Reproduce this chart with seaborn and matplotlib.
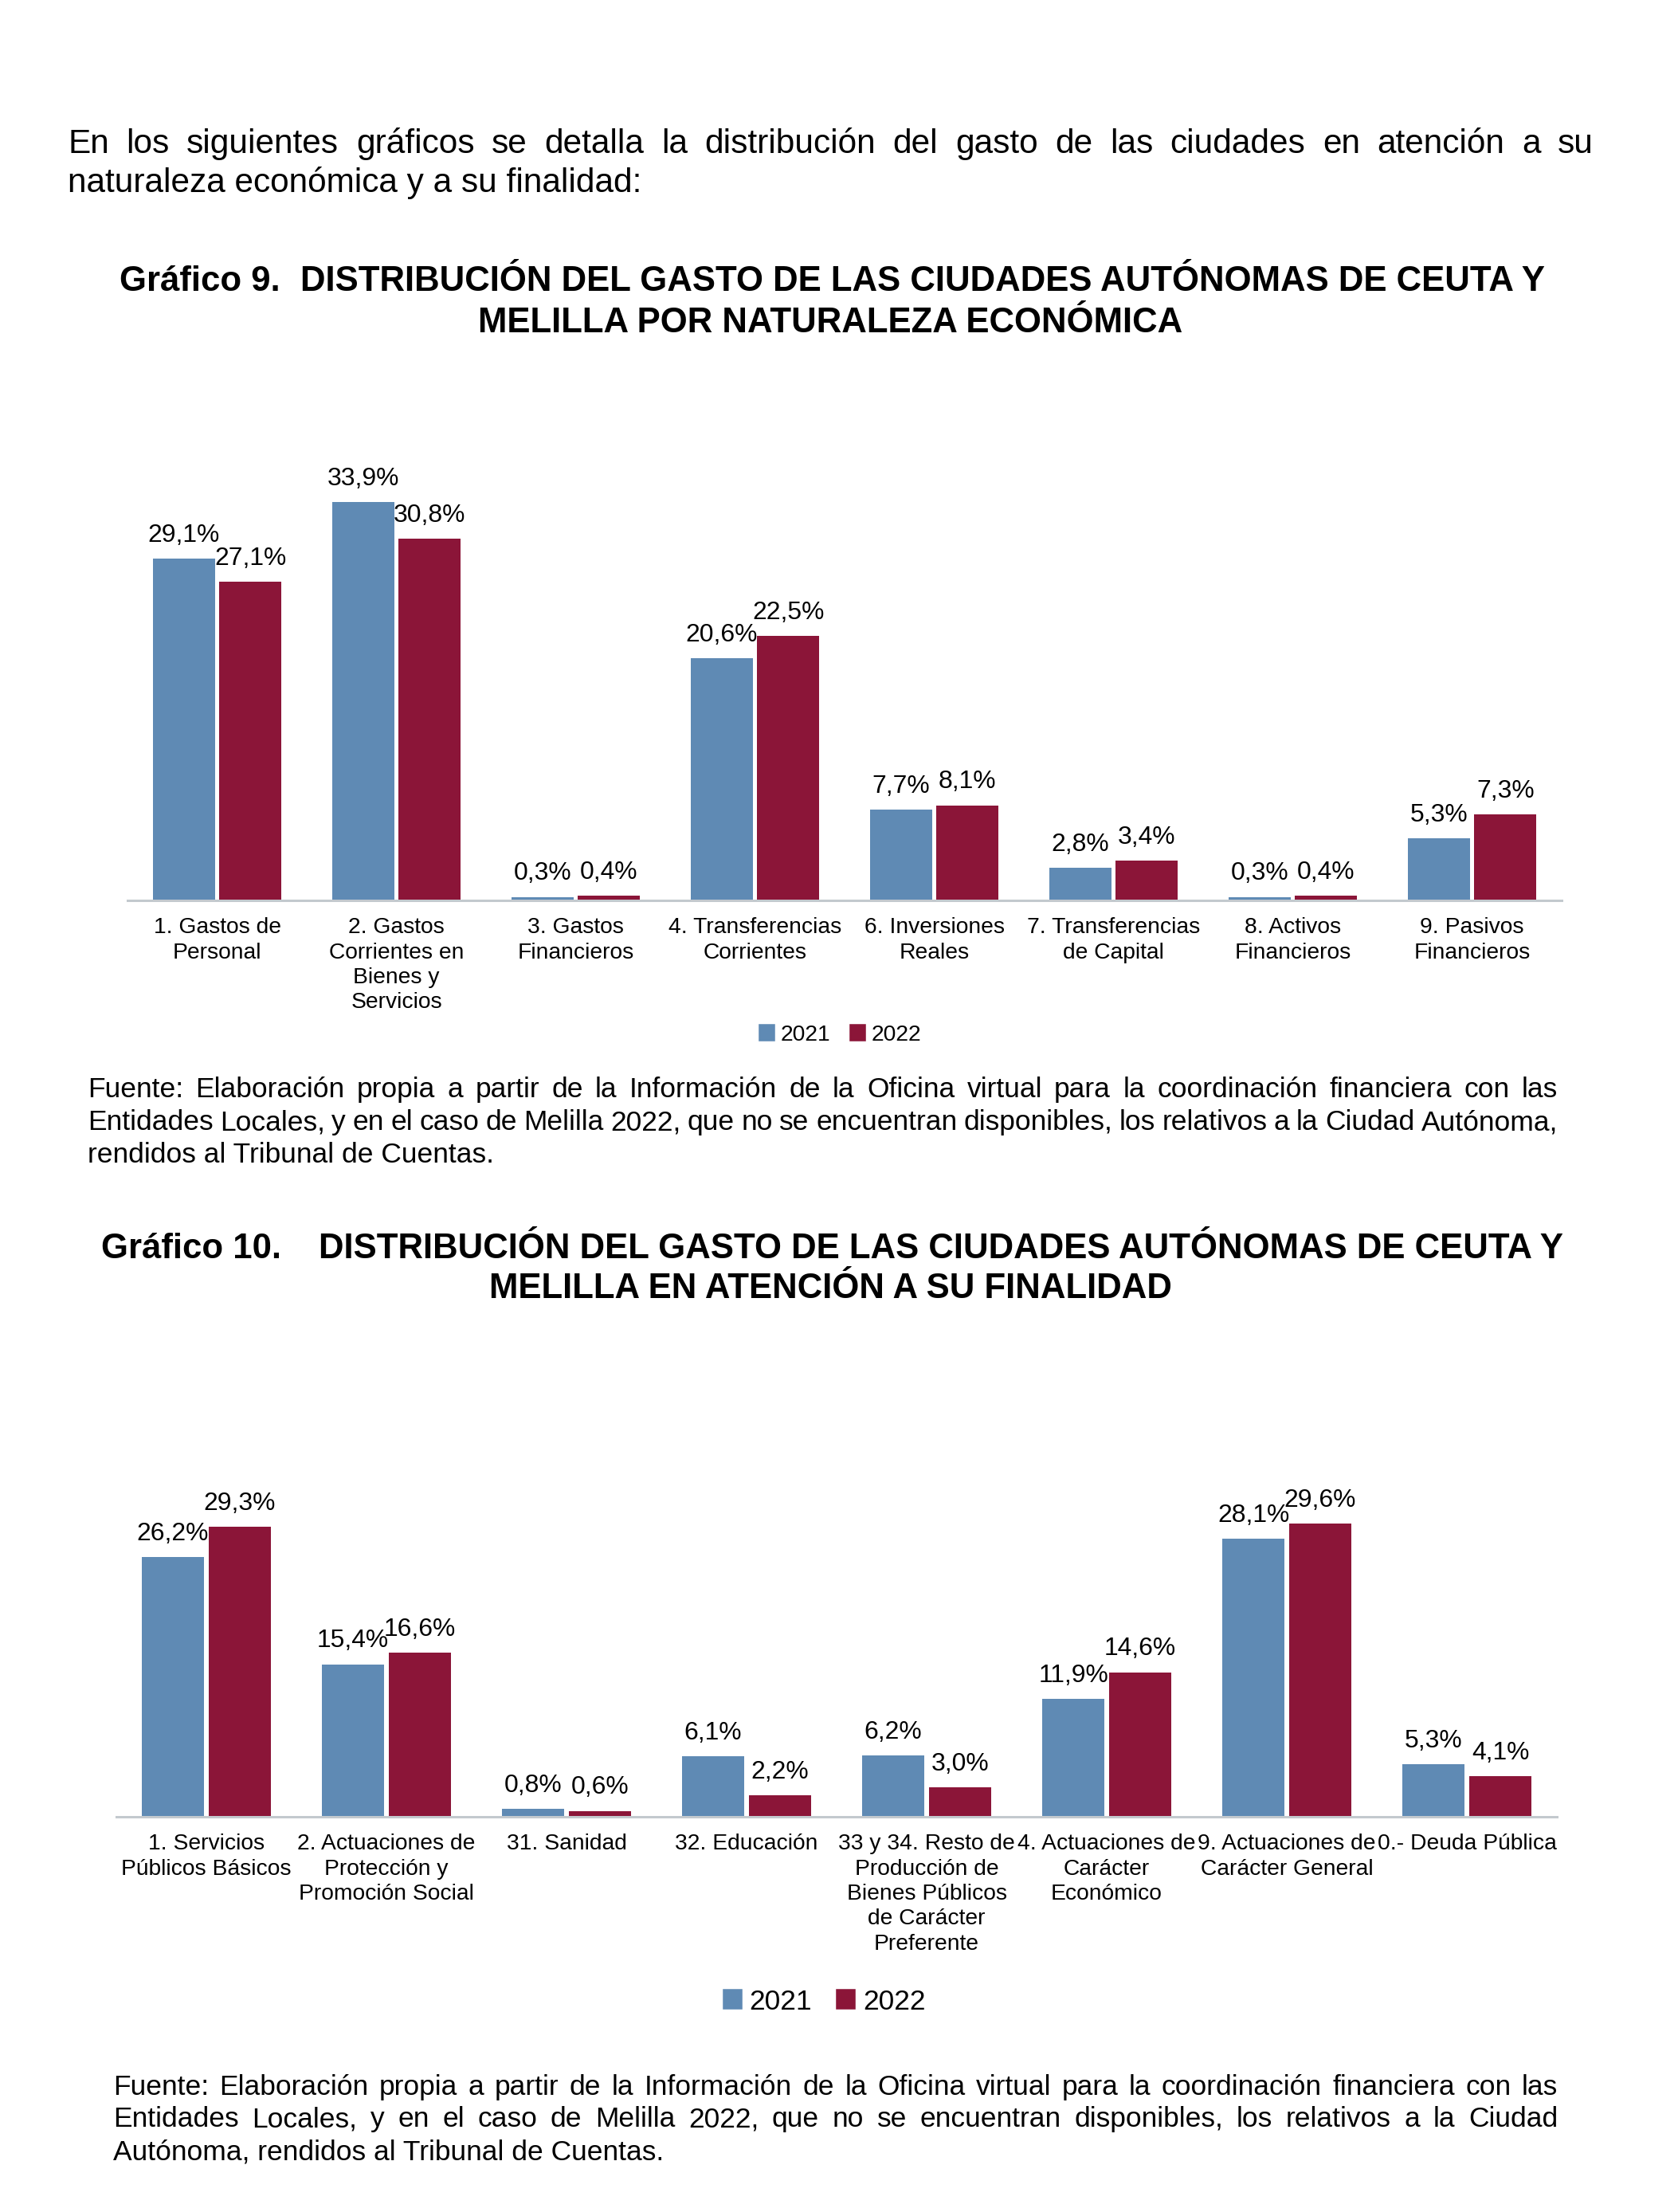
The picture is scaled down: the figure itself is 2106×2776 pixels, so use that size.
import matplotlib
matplotlib.use("Agg")
import matplotlib.pyplot as plt
import matplotlib.patches as mpatches
import numpy as np
import pandas as pd
import seaborn as sns

# ---------------- data ----------------
years = ["2021", "2022"]

cats_eco = ["1. Gastos de\nPersonal", "2. Gastos\nCorrientes en\nBienes y\nServicios",
            "3. Gastos\nFinancieros", "4. Transferencias\nCorrientes",
            "6. Inversiones\nReales", "7. Transferencias\nde Capital",
            "8. Activos\nFinancieros", "9. Pasivos\nFinancieros"]
eco_2021 = [29.1, 33.9, 0.3, 20.6, 7.7, 2.8, 0.3, 5.3]
eco_2022 = [27.1, 30.8, 0.4, 22.5, 8.1, 3.4, 0.4, 7.3]

cats_fin = ["1. Servicios\nPúblicos Básicos", "2. Actuaciones de\nProtección y\nPromoción Social",
            "31. Sanidad", "32. Educación",
            "33 y 34. Resto de\nProducción de\nBienes Públicos\nde Carácter\nPreferente",
            "4. Actuaciones de\nCarácter\nEconómico", "9. Actuaciones de\nCarácter General",
            "0.- Deuda Pública"]
fin_2021 = [26.2, 15.4, 0.8, 6.1, 6.2, 11.9, 28.1, 5.3]
fin_2022 = [29.3, 16.6, 0.6, 2.2, 3.0, 14.6, 29.6, 4.1]

intro_lines = ["En los siguientes gráficos se detalla la distribución del gasto de las ciudades en atención a su",
               "naturaleza económica y a su finalidad:"]
title1_prefix = "Gráfico 9."
title1_main = "DISTRIBUCIÓN DEL GASTO DE LAS CIUDADES AUTÓNOMAS DE CEUTA Y"
title1_line2 = "MELILLA POR NATURALEZA ECONÓMICA"
title2_prefix = "Gráfico 10."
title2_main = "DISTRIBUCIÓN DEL GASTO DE LAS CIUDADES AUTÓNOMAS DE CEUTA Y"
title2_line2 = "MELILLA EN ATENCIÓN A SU FINALIDAD"
source1_lines = ["Fuente: Elaboración propia a partir de la Información de la Oficina virtual para la coordinación financiera con las",
                 "Entidades Locales, y en el caso de Melilla 2022, que no se encuentran disponibles, los relativos a la Ciudad Autónoma,",
                 "rendidos al Tribunal de Cuentas."]
source2_lines = ["Fuente: Elaboración propia a partir de la Información de la Oficina virtual para la coordinación financiera con las",
                 "Entidades Locales, y en el caso de Melilla 2022, que no se encuentran disponibles, los relativos a la Ciudad",
                 "Autónoma, rendidos al Tribunal de Cuentas."]

BLUE = "#5F8AB4"
RED = "#8B1538"
AXIS_GRAY = "#C3C9CE"

# ---------------- setup ----------------
sns.set_theme(style="white")
plt.rcParams["font.family"] = ["Liberation Sans", "DejaVu Sans"]
plt.rcParams["text.color"] = "black"
plt.rcParams["xtick.color"] = "black"
plt.rcParams["axes.labelcolor"] = "black"

DPI = 254.6
W, H = 2106, 2776
fig = plt.figure(figsize=(W / DPI + 1e-4, H / DPI + 1e-4), dpi=DPI)
fig.patch.set_facecolor("white")

TITLE_SIZE = 12.4


def fx(x):
    return x / W


def fy(y):
    return 1 - y / H


renderer = fig.canvas.get_renderer()


def justified(lines, x0, x1, baselines, size):
    for i, (line, yb) in enumerate(zip(lines, baselines)):
        if i == len(lines) - 1:
            fig.text(fx(x0), fy(yb), line, fontsize=size, ha="left", va="baseline", color="black")
            continue
        words = line.split(" ")
        widths = []
        for w in words:
            t = fig.text(0, 0, w, fontsize=size)
            widths.append(t.get_window_extent(renderer).width)
            t.remove()
        space = (x1 - x0 - sum(widths)) / (len(words) - 1)
        x = x0
        for w, wd in zip(words, widths):
            fig.text(fx(x), fy(yb), w, fontsize=size, ha="left", va="baseline", color="black")
            x += wd + space


def fmt(v):
    return f"{v:.1f}%".replace(".", ",")


def bar_chart(rect, cats, v21, v22, ymax, legend_xy, legend_size):
    ax = fig.add_axes(rect)
    df = pd.DataFrame({
        "cat": cats * 2,
        "year": [years[0]] * len(cats) + [years[1]] * len(cats),
        "val": v21 + v22,
    })
    sns.barplot(data=df, x="cat", y="val", hue="year", order=cats, hue_order=years,
                palette=[BLUE, RED], saturation=1, width=0.743, gap=0.066,
                linewidth=0, ax=ax, legend=False, errorbar=None)
    for cont, vals in zip(ax.containers, [v21, v22]):
        ax.bar_label(cont, labels=[fmt(v) for v in vals], padding=4, fontsize=9, color="black")
    ax.set_ylim(0, ymax)
    ax.set_xlim(-0.5, len(cats) - 0.5)
    ax.set_yticks([])
    ax.set_xlabel("")
    ax.set_ylabel("")
    ax.set_xticks(range(len(cats)))
    ax.set_xticklabels(cats, fontsize=8, linespacing=1.27, color="black")
    ax.tick_params(axis="x", length=0, pad=6)
    for s in ["top", "right", "left"]:
        ax.spines[s].set_visible(False)
    ax.spines["bottom"].set_color(AXIS_GRAY)
    ax.spines["bottom"].set_linewidth(0.85)
    ax.set_facecolor("none")
    handles = [mpatches.Patch(color=BLUE, label=years[0]), mpatches.Patch(color=RED, label=years[1])]
    ax.legend(handles=handles, loc="center", bbox_to_anchor=legend_xy,
              bbox_transform=fig.transFigure, ncol=2, frameon=False, fontsize=legend_size,
              handlelength=0.6, handleheight=0.6, handletextpad=0.3, columnspacing=0.9,
              borderaxespad=0, borderpad=0, labelcolor="black")
    return ax


# ---------------- text ----------------
justified(intro_lines, 85, 2000, [192, 241], 12)

fig.text(fx(150), fy(365), title1_prefix, fontsize=TITLE_SIZE, fontweight="bold", ha="left", va="baseline")
fig.text(fx(1157.5), fy(365), title1_main, fontsize=TITLE_SIZE, fontweight="bold", ha="center", va="baseline")
fig.text(fx(1042), fy(417), title1_line2, fontsize=TITLE_SIZE, fontweight="bold", ha="center", va="baseline")

justified(source1_lines, 110, 1955, [1377, 1418, 1459], 10)

fig.text(fx(127), fy(1579), title2_prefix, fontsize=TITLE_SIZE, fontweight="bold", ha="left", va="baseline")
fig.text(fx(1180.5), fy(1579), title2_main, fontsize=TITLE_SIZE, fontweight="bold", ha="center", va="baseline")
fig.text(fx(1042), fy(1629), title2_line2, fontsize=TITLE_SIZE, fontweight="bold", ha="center", va="baseline")

justified(source2_lines, 142, 1955, [2629, 2669, 2710], 10)

# ---------------- charts ----------------
h1 = 40 * 14.75
bar_chart([fx(160), fy(1130), 1800 / W, h1 / H], cats_eco, eco_2021, eco_2022, 40,
          (fx(1055), fy(1299)), 8)

h2 = 35 * 12.43
bar_chart([fx(146), fy(2280), 1808 / W, h2 / H], cats_fin, fin_2021, fin_2022, 35,
          (fx(1035), fy(2512)), 10)

fig.savefig("out.png", dpi=DPI, facecolor="white")
